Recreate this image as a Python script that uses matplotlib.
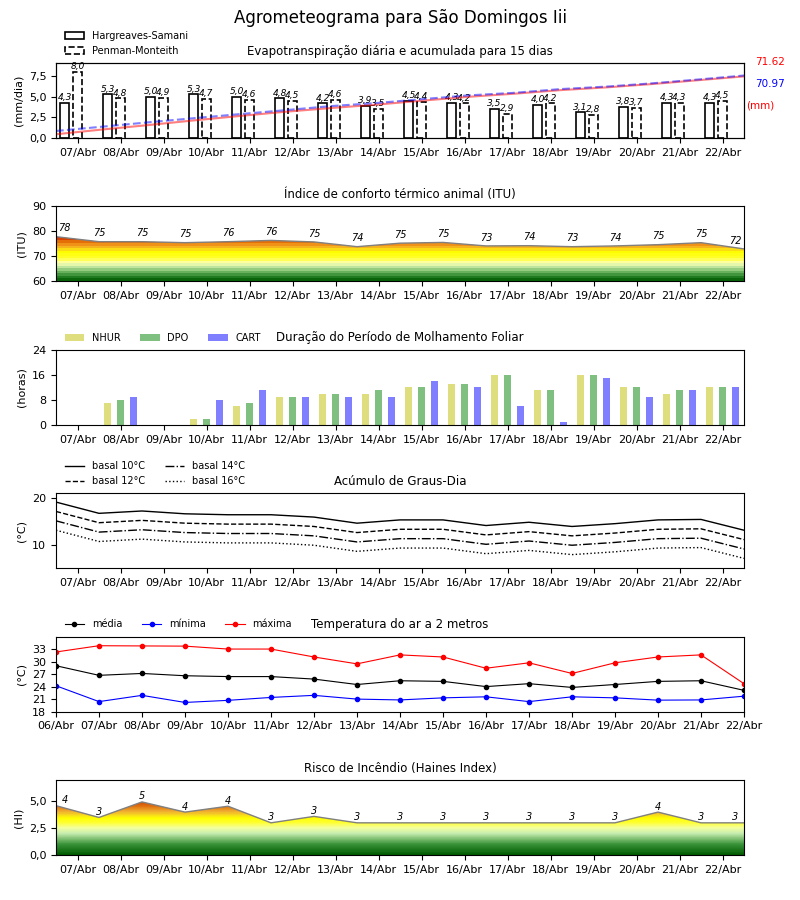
"""
Agrometeograma - seis paineis diarios.
"""

import numpy as np
import matplotlib
matplotlib.use("Agg")
import matplotlib.pyplot as plt
from matplotlib.colors import LinearSegmentedColormap
from matplotlib.ticker import FuncFormatter

dias = ["07/Abr", "08/Abr", "09/Abr", "10/Abr", "11/Abr", "12/Abr", "13/Abr", "14/Abr",
        "15/Abr", "16/Abr", "17/Abr", "18/Abr", "19/Abr", "20/Abr", "21/Abr", "22/Abr"]
dias_temp = ["06/Abr"] + dias

# evapotranspiracao (mm/dia)
et_hs = [4.3, 5.3, 5.0, 5.3, 5.0, 4.8, 4.2, 3.9, 4.5, 4.3, 3.5, 4.0, 3.1, 3.8, 4.3, 4.3]
et_pm = [8.0, 4.8, 4.9, 4.7, 4.6, 4.5, 4.6, 3.5, 4.4, 4.2, 2.9, 4.2, 2.8, 3.7, 4.3, 4.5]
total_hs = 71.62
total_pm = 70.97

# ITU
itu = [77.9, 75.9, 75.9, 75.5, 75.9, 76.4, 75.8, 73.9, 75.3, 75.6, 74.2, 74.3, 73.9, 74.2,
       74.7, 75.5, 73.0]
itu_rot = [78, 75, 75, 75, 76, 76, 75, 74, 75, 75, 73, 74, 73, 74, 75, 75, 72]

# molhamento foliar (horas)
nhur = [0, 7, 0, 2, 6, 9, 10, 10, 12, 13, 16, 11, 16, 12, 10, 12]
dpo = [0, 8, 0, 2, 7, 9, 10, 11, 12, 13, 16, 11, 16, 12, 11, 12]
cart = [0, 9, 0, 8, 11, 9, 9, 9, 14, 12, 6, 1, 15, 9, 11, 12]

# graus-dia
gd10 = [19.1, 16.7, 17.2, 16.6, 16.4, 16.4, 15.9, 14.6, 15.3, 15.3, 14.1, 14.8, 13.9, 14.5,
        15.3, 15.4, 13.1]
gd12 = [17.1, 14.7, 15.2, 14.6, 14.4, 14.4, 13.9, 12.6, 13.3, 13.3, 12.1, 12.8, 11.9, 12.5,
        13.3, 13.4, 11.1]
gd14 = [15.1, 12.7, 13.2, 12.6, 12.4, 12.4, 11.9, 10.6, 11.3, 11.3, 10.1, 10.8, 9.9, 10.5,
        11.3, 11.4, 9.1]
gd16 = [13.1, 10.7, 11.2, 10.6, 10.4, 10.4, 9.9, 8.6, 9.3, 9.3, 8.1, 8.8, 7.9, 8.5,
        9.3, 9.4, 7.1]

# temperatura do ar (C)
t_med = [29.0, 26.7, 27.15, 26.6, 26.4, 26.4, 25.8, 24.5, 25.4, 25.25, 24.0, 24.7, 23.8, 24.5,
         25.25, 25.4, 23.1]
t_min = [24.2, 20.4, 21.9, 20.2, 20.7, 21.4, 21.9, 21.0, 20.8, 21.3, 21.55, 20.4, 21.55, 21.3,
         20.75, 20.8, 21.7]
t_max = [32.3, 33.8, 33.75, 33.7, 33.0, 33.0, 31.1, 29.45, 31.6, 31.1, 28.4, 29.7, 27.15, 29.7,
         31.1, 31.6, 24.7]

# Haines
haines = [4.6, 3.5, 4.95, 4.0, 4.55, 3.0, 3.6, 3.0, 3.0, 3.0, 3.0, 3.0, 3.0, 3.0, 4.0, 3.0, 3.0]
haines_rot = [4, 3, 5, 4, 4, 3, 3, 3, 3, 3, 3, 3, 3, 3, 4, 3, 3]

virgula = FuncFormatter(lambda v, p: "{:.1f}".format(v).replace(".", ","))


def preenche(ax, xs, ys, y0, y1, cmap, passo):
    poly, = ax.fill(np.concatenate([[xs[0]], xs, [xs[-1]]]),
                    np.concatenate([[y0], ys, [y0]]), facecolor="none", edgecolor="none")
    niveis = np.arange(y0 + passo / 2, y1, passo).reshape(-1, 1)
    im = ax.imshow(niveis, cmap=cmap, vmin=y0, vmax=y1, aspect="auto", origin="lower",
                   interpolation="nearest", extent=[xs[0], xs[-1], y0, y1])
    im.set_clip_path(poly)
    ax.plot(xs, ys, color="gray", lw=1)


def rotulos(ax, xs, ys, labs, dy, fs=7):
    for i, (xx, yy, t) in enumerate(zip(xs, ys, labs)):
        if i == 0:
            xx = xx + 0.2
        elif i == len(xs) - 1:
            xx = xx - 0.2
        ax.text(xx, yy + dy, str(t), ha="center", va="bottom", style="italic", fontsize=fs)


fig, axs = plt.subplots(6, 1, figsize=(8, 9), dpi=100)
fig.subplots_adjust(left=0.07, right=0.93, top=0.93, bottom=0.05, hspace=0.91)
fig.suptitle("Agrometeograma para São Domingos Iii", fontsize=12, y=0.99)

x = np.arange(len(dias))
xm = np.arange(len(itu)) - 0.5

for ax in axs:
    ax.tick_params(labelsize=8)

# 1 - evapotranspiracao
ax = axs[0]
ax.bar(x - 0.3, et_hs, 0.22, facecolor="white", edgecolor="black", lw=1.2,
       label="Hargreaves-Samani")
ax.bar(x, et_pm, 0.22, facecolor="white", edgecolor="black", lw=1.2, ls="--",
       label="Penman-Monteith")
for i in range(len(x)):
    ax.text(x[i] - 0.3, et_hs[i] + 0.1, "{:.1f}".format(et_hs[i]).replace(".", ","),
            ha="center", va="bottom", style="italic", fontsize=6.5)
    ax.text(x[i], et_pm[i] + 0.1, "{:.1f}".format(et_pm[i]).replace(".", ","),
            ha="center", va="bottom", style="italic", fontsize=6.5)
ax.set_ylim(0, 9.1)
ax.set_yticks([0, 2.5, 5, 7.5])
ax.yaxis.set_major_formatter(virgula)
ax.set_ylabel("(mm/dia)", fontsize=8)
ax.set_title("Evapotranspiração diária e acumulada para 15 dias", fontsize=8.5)
ax.legend(loc="lower left", bbox_to_anchor=(0, 0.98), frameon=False, fontsize=7)
ax2 = ax.twinx()
xa = np.linspace(-0.5, len(dias) - 0.5, len(dias))
acum_hs = np.cumsum(et_hs)
acum_pm = np.cumsum(et_pm)
ax2.plot(xa, acum_hs, "r-", alpha=0.5, lw=1.5)
ax2.plot(xa, acum_pm, "b--", alpha=0.5, lw=1.5)
ax2.set_ylim(0, max(acum_hs.max(), acum_pm.max()) * 1.2)
ax2.set_yticks([])
fig.text(0.944, 0.931, "{:.2f}".format(total_hs), color="red", fontsize=7.5, va="center")
fig.text(0.944, 0.907, "{:.2f}".format(total_pm), color="blue", fontsize=7.5, va="center")
fig.text(0.933, 0.883, "(mm)", color="red", fontsize=7.5, va="center")

# 2 - ITU
ax = axs[1]
cmap_itu = LinearSegmentedColormap.from_list("itu", [
    (0.0, "#005a00"), (2 / 30, "#2e8a2e"), (4 / 30, "#80c070"), (6 / 30, "#d8f4b0"),
    (7.5 / 30, "#ffffa0"), (9 / 30, "#ffff30"), (11.5 / 30, "#ffff00"), (13 / 30, "#f8c820"),
    (14.5 / 30, "#f09018"), (16 / 30, "#e06000"), (17 / 30, "#d02000"), (18 / 30, "#c00000"),
    (1.0, "#a00000")])
preenche(ax, xm, itu, 60, 90, cmap_itu, 1.0)
rotulos(ax, xm, itu, itu_rot, 1.3)
ax.set_ylim(60, 90)
ax.set_yticks([60, 70, 80, 90])
ax.set_ylabel("(ITU)", fontsize=8)
ax.set_title("Índice de conforto térmico animal (ITU)", fontsize=8.5)

# 3 - molhamento foliar
ax = axs[2]
ax.bar(x - 0.3, nhur, 0.15, color="y", alpha=0.5, label="NHUR")
ax.bar(x, dpo, 0.15, color="g", alpha=0.5, label="DPO")
ax.bar(x + 0.3, cart, 0.15, color="b", alpha=0.5, label="CART")
ax.set_ylim(0, 24)
ax.set_yticks([0, 8, 16, 24])
ax.set_ylabel("(horas)", fontsize=8)
ax.set_title("Duração do Período de Molhamento Foliar", fontsize=8.5)
ax.legend(loc="lower left", bbox_to_anchor=(0, 0.98), frameon=False, fontsize=7, ncol=3)

# 4 - graus-dia
ax = axs[3]
ax.plot(xm, gd10, "k-", lw=1, label="basal 10°C")
ax.plot(xm, gd12, "k--", lw=1, label="basal 12°C")
ax.plot(xm, gd14, "k-.", lw=1, label="basal 14°C")
ax.plot(xm, gd16, "k:", lw=1, label="basal 16°C")
ax.set_ylim(5, 21)
ax.set_yticks([10, 20])
ax.set_ylabel("(°C)", fontsize=8)
ax.set_title("Acúmulo de Graus-Dia", fontsize=8.5)
ax.legend(loc="lower left", bbox_to_anchor=(0, 0.98), frameon=False, fontsize=7, ncol=2)

# 5 - temperatura
ax = axs[4]
xt = np.arange(len(dias_temp))
ax.plot(xt, t_med, "k.-", lw=0.8, ms=6, label="média")
ax.plot(xt, t_min, "b.-", lw=0.8, ms=6, label="mínima")
ax.plot(xt, t_max, "r.-", lw=0.8, ms=6, label="máxima")
ax.set_xlim(0, len(dias_temp) - 1)
ax.set_xticks(xt)
ax.set_xticklabels(dias_temp)
ax.set_ylim(18, 36)
ax.set_yticks([18, 21, 24, 27, 30, 33])
ax.set_ylabel("(°C)", fontsize=8)
ax.set_title("Temperatura do ar a 2 metros", fontsize=8.5)
ax.legend(loc="lower left", bbox_to_anchor=(0, 0.98), frameon=False, fontsize=7, ncol=3)

# 6 - Haines
ax = axs[5]
cmap_hi = LinearSegmentedColormap.from_list("hi", [
    (0.0, "#005a00"), (1 / 7, "#3a943a"), (2 / 7, "#c8eeb0"), (2.5 / 7, "#f4ffa0"),
    (3 / 7, "#ffff30"), (3.4 / 7, "#ffff00"), (3.7 / 7, "#f8d820"), (4 / 7, "#f0b030"),
    (4.5 / 7, "#e07010"), (5 / 7, "#d04000"), (1.0, "#b00000")])
preenche(ax, xm, haines, 0, 7, cmap_hi, 0.02)
rotulos(ax, xm, haines, haines_rot, 0.05)
ax.set_ylim(0, 7)
ax.set_yticks([0, 2.5, 5])
ax.yaxis.set_major_formatter(virgula)
ax.set_ylabel("(HI)", fontsize=8)
ax.set_title("Risco de Incêndio (Haines Index)", fontsize=8.5)

for ax in [axs[0], axs[1], axs[2], axs[3], axs[5]]:
    ax.set_xlim(-0.5, len(dias) - 0.5)
    ax.set_xticks(x)
    ax.set_xticklabels(dias)

plt.savefig("out.png", dpi=100)
